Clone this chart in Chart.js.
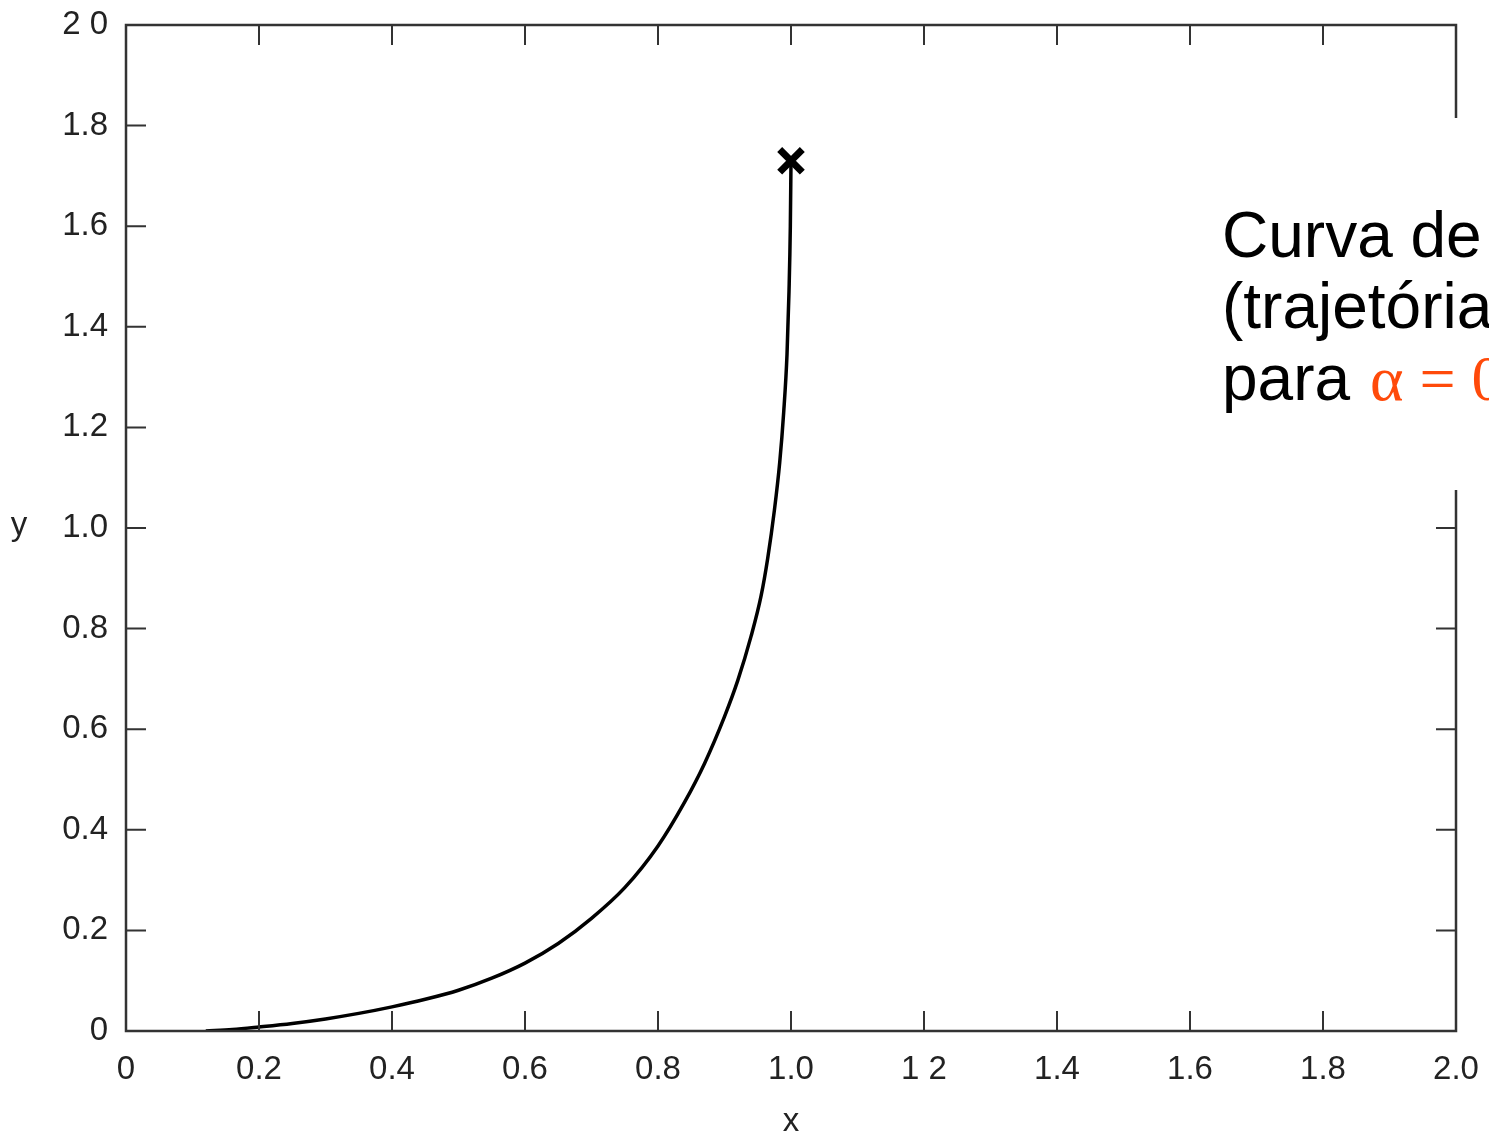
<!DOCTYPE html>
<html>
<head>
<meta charset="utf-8">
<script src="https://cdn.jsdelivr.net/npm/chart.js@4.4.0/dist/chart.umd.min.js"></script>
<style>
  html, body { margin: 0; padding: 0; background: #fff; }
  #wrap { width: 1489px; height: 1139px; position: relative; }
</style>
</head>
<body>
<div id="wrap"><canvas id="chart" width="1489" height="1139"></canvas></div>
<script>
// curve (x, y)
const curveX = [0.12, 0.16, 0.2, 0.25, 0.3, 0.35, 0.4, 0.45, 0.5, 0.55, 0.6, 0.65, 0.7, 0.75, 0.8, 0.84, 0.87, 0.9, 0.92, 0.94, 0.955, 0.965, 0.975, 0.983, 0.989, 0.994, 0.997, 0.999, 1.0];
const curveY = [0.0, 0.003, 0.008, 0.015, 0.024, 0.035, 0.048, 0.063, 0.081, 0.105, 0.135, 0.174, 0.224, 0.285, 0.368, 0.455, 0.532, 0.625, 0.697, 0.785, 0.865, 0.94, 1.035, 1.13, 1.23, 1.345, 1.47, 1.6, 1.73];

// end point marker
const markerX = [1.0];
const markerY = [1.73];

// tick labels as printed
const xTickLabels = ['0', '0.2', '0.4', '0.6', '0.8', '1.0', '1 2', '1.4', '1.6', '1.8', '2.0'];
const yTickLabels = ['0', '0.2', '0.4', '0.6', '0.8', '1.0', '1.2', '1.4', '1.6', '1.8', '2 0'];
const tickValues = [0, 0.2, 0.4, 0.6, 0.8, 1.0, 1.2, 1.4, 1.6, 1.8, 2.0];

// annotation text
const noteLines = ['Curva de', '(trajetória', 'para '];
const noteAlpha = 'α = 0';

const FONT = '"Liberation Sans", Arial, Helvetica, sans-serif';
const FRAME = '#333';

// frame, inward ticks, axis names and the note box
const framePlugin = {
    id: 'frame',
    afterDatasetsDraw(chart) {
        const ctx = chart.ctx;
        const xs = chart.scales.x;
        const ys = chart.scales.y;
        const a = chart.chartArea;
        const tl = 20;

        ctx.save();
        ctx.strokeStyle = FRAME;
        ctx.lineWidth = 2.5;
        ctx.strokeRect(a.left, a.top, a.right - a.left, a.bottom - a.top);

        ctx.lineWidth = 2;
        tickValues.forEach(v => {
            if (v <= 0 || v >= 2) return;
            const px = xs.getPixelForValue(v);
            const py = ys.getPixelForValue(v);
            ctx.beginPath();
            ctx.moveTo(px, a.bottom); ctx.lineTo(px, a.bottom - tl);
            ctx.moveTo(px, a.top); ctx.lineTo(px, a.top + tl);
            ctx.moveTo(a.left, py); ctx.lineTo(a.left + tl, py);
            ctx.moveTo(a.right, py); ctx.lineTo(a.right - tl, py);
            ctx.stroke();
        });

        // axis names
        ctx.fillStyle = '#222';
        ctx.font = '33px ' + FONT;
        ctx.textAlign = 'center';
        ctx.textBaseline = 'middle';
        ctx.fillText('y', 19, ys.getPixelForValue(1.0) - 2);
        ctx.fillText('x', xs.getPixelForValue(1.0), 1122);

        // white box with the note, pasted over the right border
        ctx.fillStyle = '#fff';
        ctx.fillRect(1212, 118, 1489 - 1212, 372);

        ctx.fillStyle = '#000';
        ctx.font = '64px ' + FONT;
        ctx.textAlign = 'left';
        ctx.textBaseline = 'alphabetic';
        ctx.fillText(noteLines[0], 1222, 257);
        ctx.fillText(noteLines[1], 1222, 328);
        ctx.fillText(noteLines[2], 1222, 400);
        const w = ctx.measureText(noteLines[2]).width;
        ctx.fillStyle = '#ff4a0a';
        ctx.font = '64px "Liberation Serif", "DejaVu Serif", serif';
        ctx.fillText(noteAlpha, 1222 + w + 2, 400);
        ctx.restore();
    }
};

const ctx = document.getElementById('chart');
new Chart(ctx, {
    type: 'line',
    data: {
        datasets: [
            {
                label: 'curva',
                data: curveX.map((x, i) => ({ x: x, y: curveY[i] })),
                borderColor: '#000',
                borderWidth: 3.5,
                pointRadius: 0,
                cubicInterpolationMode: 'monotone',
                fill: false
            },
            {
                label: 'captura',
                data: markerX.map((x, i) => ({ x: x, y: markerY[i] })),
                showLine: false,
                pointStyle: 'crossRot',
                pointRadius: 16,
                borderColor: '#000',
                borderWidth: 7
            }
        ]
    },
    options: {
        responsive: false,
        animation: false,
        events: [],
        layout: { padding: { top: 25, right: 33, left: 0, bottom: 0 } },
        plugins: {
            legend: { display: false },
            tooltip: { enabled: false }
        },
        scales: {
            x: {
                type: 'linear',
                min: 0,
                max: 2,
                afterFit(scale) {
                    scale.height = 108;
                    scale.paddingLeft = 0;
                    scale.paddingRight = 0;
                },
                afterBuildTicks(scale) { scale.ticks = tickValues.map(v => ({ value: v })); },
                grid: { display: false, drawTicks: false },
                border: { display: false },
                ticks: {
                    padding: 19,
                    color: '#222',
                    font: { size: 33, family: FONT },
                    maxRotation: 0,
                    autoSkip: false,
                    callback: (v, i) => xTickLabels[i]
                }
            },
            y: {
                type: 'linear',
                min: 0,
                max: 2,
                afterFit(scale) {
                    scale.width = 126;
                    scale.paddingTop = 0;
                    scale.paddingBottom = 0;
                },
                afterBuildTicks(scale) { scale.ticks = tickValues.map(v => ({ value: v })); },
                grid: { display: false, drawTicks: false },
                border: { display: false },
                ticks: {
                    padding: 18,
                    color: '#222',
                    font: { size: 33, family: FONT },
                    autoSkip: false,
                    callback: (v, i) => yTickLabels[i]
                }
            }
        }
    },
    plugins: [framePlugin]
});
</script>
</body>
</html>
